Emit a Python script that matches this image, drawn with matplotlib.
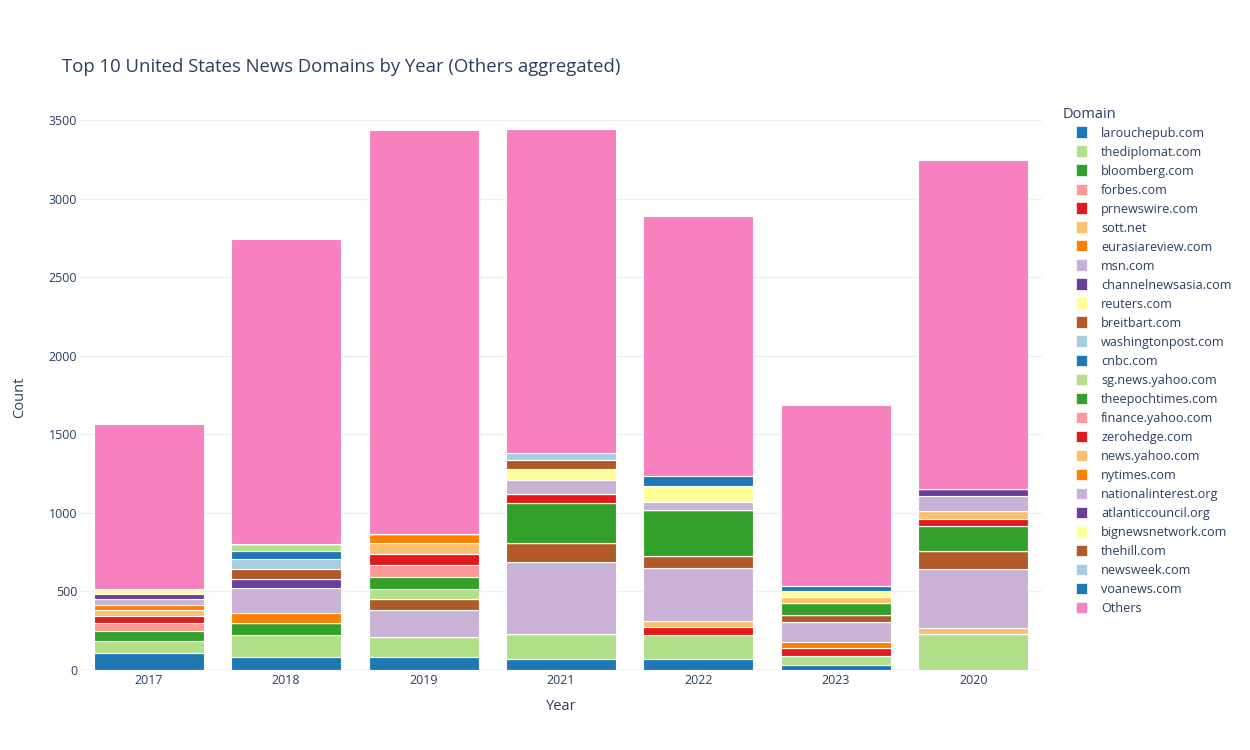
import matplotlib.pyplot as plt
from matplotlib.patches import Rectangle
import numpy as np

plt.rcParams['font.family'] = ['Open Sans', 'DejaVu Sans']

# Категорії та дані
years = ['2017', '2018', '2019', '2021', '2022', '2023', '2020']
domains = ['larouchepub.com', 'thediplomat.com', 'bloomberg.com', 'forbes.com',
           'prnewswire.com', 'sott.net', 'eurasiareview.com', 'msn.com',
           'channelnewsasia.com', 'reuters.com', 'breitbart.com', 'washingtonpost.com',
           'cnbc.com', 'sg.news.yahoo.com', 'theepochtimes.com', 'finance.yahoo.com',
           'zerohedge.com', 'news.yahoo.com', 'nytimes.com', 'nationalinterest.org',
           'atlanticcouncil.org', 'bignewsnetwork.com', 'thehill.com', 'newsweek.com',
           'voanews.com', 'Others']

# рядки = домени, стовпці = роки (у порядку years)
counts = [
    [111, 80, 83, 73, 73, 35, 0],       # larouchepub.com
    [74, 143, 124, 159, 153, 57, 232],  # thediplomat.com
    [65, 76, 0, 0, 0, 0, 0],            # bloomberg.com
    [49, 0, 0, 0, 0, 0, 0],             # forbes.com
    [43, 0, 0, 0, 46, 46, 0],           # prnewswire.com
    [38, 0, 0, 0, 37, 0, 37],           # sott.net
    [37, 67, 0, 0, 0, 38, 0],           # eurasiareview.com
    [35, 156, 175, 456, 338, 128, 374], # msn.com
    [29, 58, 0, 0, 0, 0, 0],            # channelnewsasia.com
    [32, 0, 0, 0, 0, 0, 0],             # reuters.com
    [0, 63, 67, 118, 82, 44, 113],      # breitbart.com
    [0, 64, 0, 0, 0, 0, 0],             # washingtonpost.com
    [0, 48, 0, 0, 0, 0, 0],             # cnbc.com
    [0, 45, 67, 0, 0, 0, 0],            # sg.news.yahoo.com
    [0, 0, 76, 258, 287, 77, 158],      # theepochtimes.com
    [0, 0, 74, 0, 0, 0, 0],             # finance.yahoo.com
    [0, 0, 73, 54, 0, 0, 49],           # zerohedge.com
    [0, 0, 67, 0, 0, 37, 51],           # news.yahoo.com
    [0, 0, 57, 0, 0, 0, 0],             # nytimes.com
    [0, 0, 0, 92, 57, 0, 92],           # nationalinterest.org
    [0, 0, 0, 0, 0, 0, 44],             # atlanticcouncil.org
    [0, 0, 0, 70, 99, 44, 0],           # bignewsnetwork.com
    [0, 0, 0, 58, 0, 0, 0],             # thehill.com
    [0, 0, 0, 41, 0, 0, 0],             # newsweek.com
    [0, 0, 0, 0, 61, 27, 0],            # voanews.com
    [1052, 1945, 2577, 2069, 1659, 1152, 2095],  # Others
]

paired = ['#A6CEE3', '#1F78B4', '#B2DF8A', '#33A02C', '#FB9A99', '#E31A1C',
          '#FDBF6F', '#FF7F00', '#CAB2D6', '#6A3D9A', '#FFFF99', '#B15928']
colors = [paired[(i + 1) % 12] for i in range(len(domains) - 1)] + ['#F781BF']

text_color = '#2a3f5f'
grid_color = '#ebf0f8'

fig = plt.figure(figsize=(12.5, 7.5), dpi=100)
ax = fig.add_axes([80 / 1250, 80 / 750, (1042 - 80) / 1250, 570 / 750])

x = np.arange(len(years))
bottom = np.zeros(len(years))
for name, vals, col in zip(domains, counts, colors):
    vals = np.array(vals, dtype=float)
    ax.bar(x, vals, width=0.8, bottom=bottom, color=col,
           edgecolor='white', linewidth=0.8, zorder=3)
    bottom += vals

ax.set_xlim(-0.5, len(years) - 0.5)
ax.set_ylim(0, 3630)
ax.set_yticks(np.arange(0, 3501, 500))
ax.set_xticks(x)
ax.set_xticklabels(years)
ax.yaxis.grid(True, color=grid_color, linewidth=1, zorder=0)
ax.axhline(0, color=grid_color, linewidth=2, zorder=1)
for s in ax.spines.values():
    s.set_visible(False)
ax.tick_params(length=0, labelsize=9, colors=text_color)
ax.tick_params(axis='y', pad=2)
ax.tick_params(axis='x', pad=3)

fig.text(62 / 1250, 1 - 67.5 / 750, 'Top 10 United States News Domains by Year (Others aggregated)',
         fontsize=13.35, color=text_color, va='center', ha='left')
fig.text(20 / 1250, 1 - 397 / 750, 'Count', fontsize=10.5, color=text_color,
         rotation=90, va='center', ha='center')
fig.text(561 / 1250, 1 - 706 / 750, 'Year', fontsize=10.5, color=text_color,
         va='center', ha='center')

# Легенда вручну
fig.text(1063 / 1250, 1 - 114.5 / 750, 'Domain', fontsize=10.5, color=text_color,
         va='center', ha='left')
for i, (name, col) in enumerate(zip(domains, colors)):
    yc = 132 + 19 * i
    fig.patches.append(Rectangle((1076 / 1250, 1 - (yc + 5.5) / 750), 11 / 1250, 11 / 750,
                                 transform=fig.transFigure, facecolor=col,
                                 edgecolor='white', linewidth=0.5))
    fig.text(1101 / 1250, 1 - (yc + 1.5) / 750, name, fontsize=9.1, color=text_color,
             va='center', ha='left')

plt.savefig('out.png')
plt.close()
